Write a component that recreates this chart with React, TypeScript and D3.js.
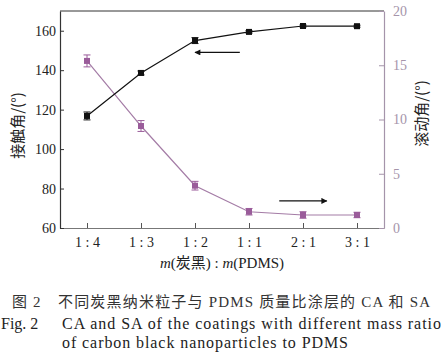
import { useEffect, useRef } from 'react';
import * as d3 from 'd3';

const ratios = ['1 : 4', '1 : 3', '1 : 2', '1 : 1', '2 : 1', '3 : 1'];
const caValues = [116.8, 138.6, 155.0, 159.4, 162.4, 162.3];
const caErrors = [2.0, 1.0, 1.5, 0.6, 0.5, 0.5];
const saValues = [15.4, 9.4, 3.9, 1.5, 1.2, 1.2];
const saErrors = [0.55, 0.5, 0.4, 0.3, 0.3, 0.25];
const caTicks = [60, 80, 100, 120, 140, 160];
const saTicks = [0, 5, 10, 15, 20];

const BLACK = '#111';
const PURPLE = '#9a5c9a';
const PURPLE_LINE = '#a47ca6';
const PURPLE_AXIS = '#a594aa';
const FONT = '"Liberation Serif", "Noto Sans CJK SC", serif';

export default function App() {
  const svgRef = useRef<SVGSVGElement>(null);

  useEffect(() => {
    if (!svgRef.current) return;
    const width = 444;
    const height = 354;
    const margin = { top: 11, right: 60, bottom: 126, left: 60 };
    const x0 = margin.left;
    const x1 = width - margin.right;
    const y0 = height - margin.bottom;
    const y1 = margin.top;

    const svg = d3.select(svgRef.current);
    svg.selectAll('*').remove();
    svg.attr('width', width).attr('height', height).style('font-family', FONT);

    svg.append('rect').attr('width', width).attr('height', height).attr('fill', '#fff');

    const x = d3.scalePoint<string>().domain(ratios).range([x0, x1]).padding(0.5);
    const xi = d3.scaleLinear().domain([0, ratios.length - 1])
      .range([x(ratios[0]) || 0, x(ratios[ratios.length - 1]) || 0]);
    const yL = d3.scaleLinear().domain([60, 170]).range([y0, y1]);
    const yR = d3.scaleLinear().domain([0, 20]).range([y0, y1]);

    // top frame
    svg.append('line')
      .attr('x1', x0).attr('x2', x1).attr('y1', y1).attr('y2', y1)
      .attr('stroke', '#333').attr('stroke-width', 1);

    // bottom axis
    const gx = svg.append('g')
      .attr('transform', `translate(0,${y0})`)
      .call(d3.axisBottom(x).tickSizeInner(-5).tickSizeOuter(0).tickPadding(9));
    gx.select('.domain').attr('stroke', '#777').attr('stroke-width', 1.2);
    gx.selectAll('.tick line').attr('stroke', '#555');
    gx.selectAll('.tick text').attr('font-size', 14).attr('fill', '#222')
      .attr('font-family', FONT);

    // left axis
    const gl = svg.append('g')
      .attr('transform', `translate(${x0},0)`)
      .call(d3.axisLeft(yL).tickValues(caTicks).tickSizeInner(-4).tickSizeOuter(0).tickPadding(4));
    gl.select('.domain').attr('stroke', '#333').attr('stroke-width', 1.2);
    gl.selectAll('.tick line').attr('stroke', '#333');
    gl.selectAll('.tick text').attr('font-size', 14).attr('fill', '#222')
      .attr('font-family', FONT);

    // right axis
    const gr = svg.append('g')
      .attr('transform', `translate(${x1},0)`)
      .call(d3.axisRight(yR).tickValues(saTicks).tickSizeInner(-5).tickSizeOuter(0).tickPadding(9));
    gr.select('.domain').attr('stroke', PURPLE_AXIS).attr('stroke-width', 1.2);
    gr.selectAll('.tick line').attr('stroke', PURPLE_AXIS);
    gr.selectAll('.tick text').attr('font-size', 14).attr('fill', PURPLE_AXIS)
      .attr('font-family', FONT);

    // axis titles
    svg.append('text')
      .attr('transform', `translate(23,${(y0 + y1) / 2 + 6}) rotate(-90)`)
      .attr('text-anchor', 'middle').attr('font-size', 15).attr('fill', '#222')
      .attr('font-family', '"Noto Sans CJK SC", sans-serif')
      .text('接触角/(°)');
    svg.append('text')
      .attr('transform', `translate(427,${(y0 + y1) / 2 - 6}) rotate(-90)`)
      .attr('text-anchor', 'middle').attr('font-size', 15).attr('fill', '#222')
      .attr('font-family', '"Noto Sans CJK SC", sans-serif')
      .text('滚动角/(°)');

    const drawSeries = (
      vals: number[], errs: number[], y: d3.ScaleLinear<number, number>,
      lineColor: string, markColor: string,
    ) => {
      const line = d3.line<number>().x((_, i) => x(ratios[i]) || 0).y(d => y(d));
      svg.append('path').datum(vals).attr('d', line)
        .attr('fill', 'none').attr('stroke', lineColor).attr('stroke-width', 1.2);
      const g = svg.append('g');
      vals.forEach((v, i) => {
        const cx = x(ratios[i]) || 0;
        const lo = y(v - errs[i]);
        const hi = y(v + errs[i]);
        g.append('line').attr('x1', cx).attr('x2', cx).attr('y1', lo).attr('y2', hi)
          .attr('stroke', markColor).attr('stroke-width', 1);
        [lo, hi].forEach(yy => {
          g.append('line').attr('x1', cx - 3.5).attr('x2', cx + 3.5).attr('y1', yy).attr('y2', yy)
            .attr('stroke', markColor).attr('stroke-width', 1);
        });
        g.append('rect').attr('x', cx - 3).attr('y', y(v) - 3)
          .attr('width', 6).attr('height', 6).attr('fill', markColor);
      });
    };

    drawSeries(saValues, saErrors, yR, PURPLE_LINE, PURPLE);
    drawSeries(caValues, caErrors, yL, BLACK, BLACK);

    // arrows pointing to each series' axis
    const defs = svg.append('defs');
    defs.append('marker').attr('id', 'arrowhead')
      .attr('viewBox', '0 0 10 10').attr('refX', 9).attr('refY', 5)
      .attr('markerWidth', 9).attr('markerHeight', 6).attr('markerUnits', 'userSpaceOnUse')
      .attr('orient', 'auto')
      .append('path').attr('d', 'M0,0 L10,5 L0,10 Z').attr('fill', BLACK);

    svg.append('line')
      .attr('x1', xi(2.83)).attr('x2', xi(2.0)).attr('y1', yL(149)).attr('y2', yL(149))
      .attr('stroke', BLACK).attr('stroke-width', 1.2).attr('marker-end', 'url(#arrowhead)');
    svg.append('line')
      .attr('x1', xi(3.56)).attr('x2', xi(4.44)).attr('y1', yR(2.5)).attr('y2', yR(2.5))
      .attr('stroke', BLACK).attr('stroke-width', 1.2).attr('marker-end', 'url(#arrowhead)');

    // x title
    const xt = svg.append('text')
      .attr('x', (x0 + x1) / 2).attr('y', 268)
      .attr('text-anchor', 'middle').attr('font-size', 15).attr('fill', '#222');
    xt.append('tspan').attr('font-style', 'italic').text('m');
    xt.append('tspan').text('(炭黑) : ');
    xt.append('tspan').attr('font-style', 'italic').text('m');
    xt.append('tspan').text('(PDMS)');

    // caption
    svg.append('text')
      .attr('x', 12).attr('y', 307).attr('font-size', 15).attr('fill', '#333')
      .attr('textLength', 418).attr('lengthAdjust', 'spacing')
      .text('图 2　不同炭黑纳米粒子与 PDMS 质量比涂层的 CA 和 SA');
    svg.append('text')
      .attr('x', 1).attr('y', 329).attr('font-size', 16).attr('fill', '#222')
      .text('Fig. 2');
    svg.append('text')
      .attr('x', 62).attr('y', 329).attr('font-size', 16).attr('fill', '#222')
      .attr('textLength', 379).attr('lengthAdjust', 'spacing')
      .text('CA and SA of the coatings with different mass ratio');
    svg.append('text')
      .attr('x', 62).attr('y', 348).attr('font-size', 16).attr('fill', '#222')
      .attr('textLength', 286).attr('lengthAdjust', 'spacing')
      .text('of carbon black nanoparticles to PDMS');
  }, []);

  return <svg ref={svgRef} style={{ position: 'absolute', left: 0, top: 0 }} />;
}
